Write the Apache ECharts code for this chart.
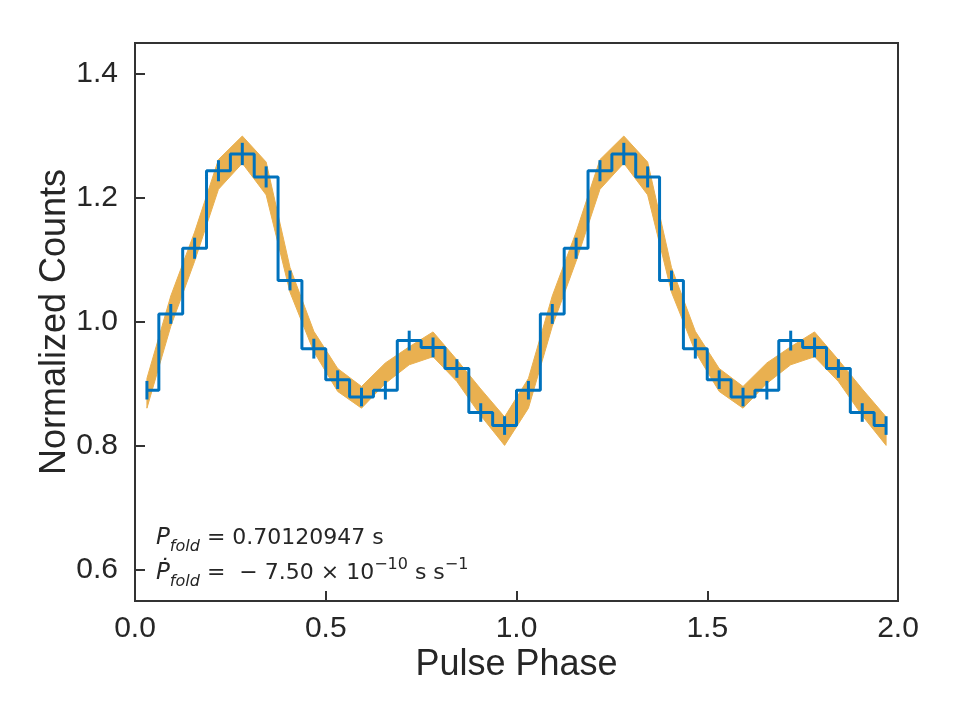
<!DOCTYPE html>
<html>
<head>
<meta charset="utf-8">
<title>pulse profile</title>
<script src="https://cdn.jsdelivr.net/npm/echarts@6/dist/echarts.min.js"></script>
<style>
  body { margin: 0; background: #fff; }
  #chart { width: 960px; height: 720px; }
</style>
</head>
<body>
<div id="chart"></div>
<script>
// one folded cycle, 16 phase bins (repeated for the 2nd cycle)
var binCenters = [0.03125, 0.09375, 0.15625, 0.21875, 0.28125, 0.34375, 0.40625, 0.46875,
                  0.53125, 0.59375, 0.65625, 0.71875, 0.78125, 0.84375, 0.90625, 0.96875];
var counts = [0.890, 1.013, 1.119, 1.244, 1.271, 1.234, 1.067, 0.957,
              0.907, 0.879, 0.890, 0.970, 0.959, 0.925, 0.854, 0.833];
var countErr = [0.015, 0.016, 0.017, 0.017, 0.018, 0.017, 0.016, 0.016,
                0.015, 0.015, 0.015, 0.016, 0.016, 0.015, 0.015, 0.015];
// model envelope (orange band)
var bandHigh = [0.909, 1.042, 1.145, 1.262, 1.300, 1.258, 1.088, 0.985,
                0.925, 0.896, 0.934, 0.960, 0.984, 0.939, 0.892, 0.847];
var bandLow  = [0.861, 0.993, 1.098, 1.214, 1.256, 1.205, 1.048, 0.952,
                0.888, 0.861, 0.901, 0.931, 0.944, 0.904, 0.849, 0.801];
var yTicks = [0.6, 0.8, 1.0, 1.2, 1.4];

var BLUE = '#0072BD';
var ORANGE = '#E9B050';
var INK = '#262626';

// two cycles
var ptsData = [], ptsBand = [];
[0, 1].forEach(function (c) {
    binCenters.forEach(function (x, i) {
        ptsData.push([x + c, counts[i], countErr[i]]);
        ptsBand.push([x + c, bandLow[i], bandHigh[i]]);
    });
});

var chart = echarts.init(document.getElementById('chart'));

chart.setOption({
    animation: false,
    grid: { left: 135, right: 62, top: 43, bottom: 119, show: true,
            borderColor: '#333', borderWidth: 2, backgroundColor: 'transparent' },
    xAxis: {
        type: 'value', min: 0, max: 2, interval: 0.5,
        axisLine: { show: true, onZero: false, lineStyle: { color: '#333', width: 2 } },
        axisTick: { show: true, inside: true, length: 10, lineStyle: { color: '#333', width: 2 } },
        splitLine: { show: false },
        axisLabel: { fontSize: 30, color: INK, margin: 13, fontFamily: 'Liberation Sans',
                     formatter: function (v) { return v.toFixed(1); } },
        name: 'Pulse Phase', nameLocation: 'middle', nameGap: 46, nameMoveOverlap: false,
        nameTextStyle: { fontSize: 36, color: INK, fontFamily: 'Liberation Sans' }
    },
    yAxis: {
        type: 'value', min: 0.55, max: 1.45,
        axisLine: { show: true, lineStyle: { color: '#333', width: 2 } },
        axisTick: { show: true, inside: true, length: 10, customValues: yTicks,
                    lineStyle: { color: '#333', width: 2 } },
        splitLine: { show: false },
        axisLabel: { fontSize: 30, color: INK, margin: 17, fontFamily: 'Liberation Sans',
                     customValues: yTicks,
                     formatter: function (v) { return v.toFixed(1); } },
        name: 'Normalized Counts', nameLocation: 'middle', nameGap: 62, nameMoveOverlap: false,
        nameTextStyle: { fontSize: 36, color: INK, fontFamily: 'Liberation Sans' }
    },
    graphic: [{
        type: 'text', left: 156, top: 521, z: 10,
        style: {
            text: '{pi|P}{sub|fold}{t| = 0.70120947 s}\n{pi|Ṗ}{sub|fold}{t| =  − 7.50 × 10}{sup|−10}{t| s s}{sup|−1}',
            fill: INK, fontFamily: 'DejaVu Sans', fontSize: 22, lineHeight: 35,
            rich: {
                pi: { fontSize: 23, fontStyle: 'italic', fontFamily: 'DejaVu Sans', fill: INK, lineHeight: 35 },
                t: { fontSize: 22, fontFamily: 'DejaVu Sans', fill: INK, lineHeight: 35 },
                sub: { fontSize: 16, fontStyle: 'italic', fontFamily: 'DejaVu Sans', fill: INK,
                       lineHeight: 16, verticalAlign: 'bottom', padding: [0, 0, 1, 0] },
                sup: { fontSize: 16, fontFamily: 'DejaVu Sans', fill: INK,
                       lineHeight: 16, verticalAlign: 'top', padding: [1, 0, 0, 0] }
            }
        }
    }],
    series: [
        {
            // model band
            type: 'custom', z: 1, silent: true,
            data: [0],
            renderItem: function (params, api) {
                var top = ptsBand.map(function (p) { return api.coord([p[0], p[2]]); });
                var bot = ptsBand.map(function (p) { return api.coord([p[0], p[1]]); }).reverse();
                return {
                    type: 'polygon',
                    shape: { points: top.concat(bot) },
                    style: { fill: ORANGE, stroke: ORANGE, lineWidth: 1 }
                };
            }
        },
        {
            type: 'line', z: 3, step: 'middle', showSymbol: false, symbol: 'none',
            data: ptsData.map(function (p) { return [p[0], p[1]]; }),
            lineStyle: { color: BLUE, width: 3 }
        },
        {
            // error bars
            type: 'custom', z: 4, silent: true,
            data: ptsData,
            renderItem: function (params, api) {
                var x = api.value(0), y = api.value(1), e = api.value(2);
                var a = api.coord([x, y - e]), b = api.coord([x, y + e]);
                return {
                    type: 'line',
                    shape: { x1: a[0], y1: a[1], x2: b[0], y2: b[1] },
                    style: { stroke: BLUE, lineWidth: 3 }
                };
            }
        }
    ]
});
</script>
</body>
</html>
